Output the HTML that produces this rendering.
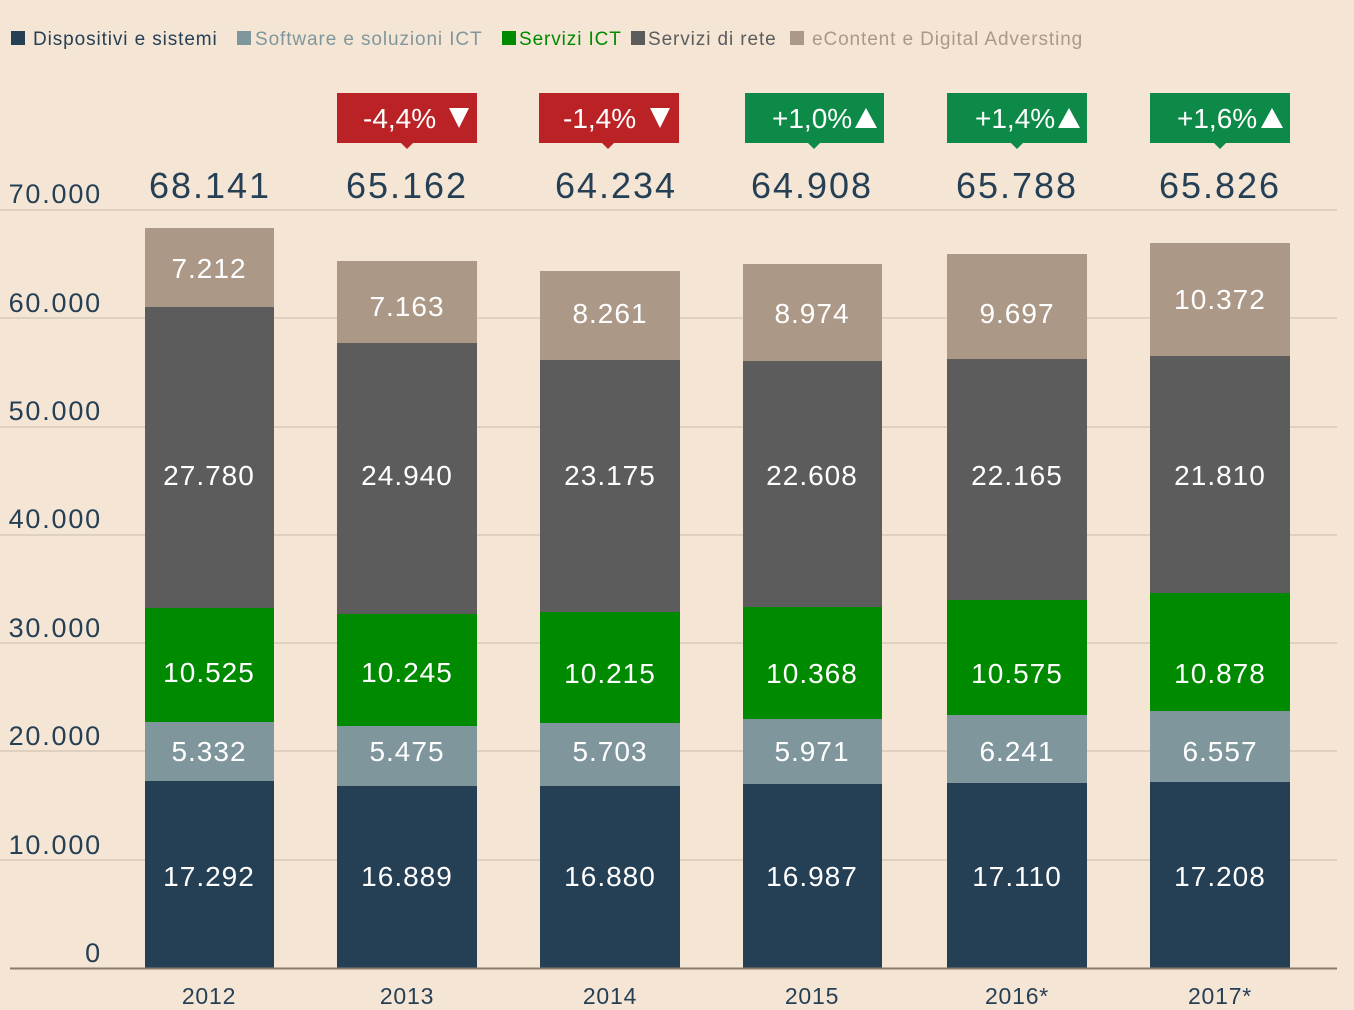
<!DOCTYPE html>
<html><head><meta charset="utf-8"><style>
body{margin:0;background:#f5e5d5;}
svg{display:block;font-family:"Liberation Sans",sans-serif;}
</style></head><body>
<svg width="1354" height="1010" viewBox="0 0 1354 1010" xmlns="http://www.w3.org/2000/svg">
<rect width="1354" height="1010" fill="#f5e5d5"/>
<g font-size="19" letter-spacing="0.9">
<rect x="11" y="31" width="14" height="14" fill="#253f55"/><text x="33" y="45" fill="#253f55">Dispositivi e sistemi</text>
<rect x="237" y="31" width="14" height="14" fill="#7f979c"/><text x="255" y="45" fill="#7f979c">Software e soluzioni ICT</text>
<rect x="502" y="31" width="14" height="14" fill="#008a00"/><text x="519" y="45" fill="#008a00">Servizi ICT</text>
<rect x="631" y="31" width="14" height="14" fill="#5c5c5c"/><text x="648" y="45" fill="#5c5c5c">Servizi di rete</text>
<rect x="790" y="31" width="14" height="14" fill="#ab9886"/><text x="812" y="45" fill="#ab9886">eContent e Digital Adversting</text>
</g>
<g stroke="#d9c9b9" stroke-width="1.5">
<line x1="0" y1="210" x2="1337" y2="210"/><line x1="0" y1="318" x2="1337" y2="318"/>
<line x1="0" y1="427" x2="1337" y2="427"/><line x1="0" y1="535" x2="1337" y2="535"/>
<line x1="0" y1="643" x2="1337" y2="643"/><line x1="0" y1="751" x2="1337" y2="751"/>
<line x1="0" y1="860" x2="1337" y2="860"/>
</g>
<g font-size="27" fill="#253f55" text-anchor="end" letter-spacing="1.8">
<text x="102" y="203">70.000</text><text x="102" y="312">60.000</text><text x="102" y="420">50.000</text>
<text x="102" y="528">40.000</text><text x="102" y="637">30.000</text><text x="102" y="745">20.000</text>
<text x="102" y="854">10.000</text><text x="102" y="962">0</text>
</g>
<g>
<rect x="145" y="781" width="129" height="187" fill="#253f55"/><rect x="145" y="722" width="129" height="59" fill="#7f979c"/><rect x="145" y="608" width="129" height="114" fill="#008a00"/><rect x="145" y="307" width="129" height="301" fill="#5c5c5c"/><rect x="145" y="228" width="129" height="79" fill="#ab9886"/>
<rect x="337" y="786" width="140" height="182" fill="#253f55"/><rect x="337" y="726" width="140" height="60" fill="#7f979c"/><rect x="337" y="614" width="140" height="112" fill="#008a00"/><rect x="337" y="343" width="140" height="271" fill="#5c5c5c"/><rect x="337" y="261" width="140" height="82" fill="#ab9886"/>
<rect x="540" y="786" width="140" height="182" fill="#253f55"/><rect x="540" y="723" width="140" height="63" fill="#7f979c"/><rect x="540" y="612" width="140" height="111" fill="#008a00"/><rect x="540" y="360" width="140" height="252" fill="#5c5c5c"/><rect x="540" y="271" width="140" height="89" fill="#ab9886"/>
<rect x="743" y="784" width="139" height="184" fill="#253f55"/><rect x="743" y="719" width="139" height="65" fill="#7f979c"/><rect x="743" y="607" width="139" height="112" fill="#008a00"/><rect x="743" y="361" width="139" height="246" fill="#5c5c5c"/><rect x="743" y="264" width="139" height="97" fill="#ab9886"/>
<rect x="947" y="783" width="140" height="185" fill="#253f55"/><rect x="947" y="715" width="140" height="68" fill="#7f979c"/><rect x="947" y="600" width="140" height="115" fill="#008a00"/><rect x="947" y="359" width="140" height="241" fill="#5c5c5c"/><rect x="947" y="254" width="140" height="105" fill="#ab9886"/>
<rect x="1150" y="782" width="140" height="186" fill="#253f55"/><rect x="1150" y="711" width="140" height="71" fill="#7f979c"/><rect x="1150" y="593" width="140" height="118" fill="#008a00"/><rect x="1150" y="356" width="140" height="237" fill="#5c5c5c"/><rect x="1150" y="243" width="140" height="113" fill="#ab9886"/>
</g>
<line x1="10" y1="968.5" x2="1337" y2="968.5" stroke="#8c7c6c" stroke-width="2"/>
<g font-size="28" fill="#fff" text-anchor="middle" letter-spacing="1">
<text x="209" y="886">17.292</text><text x="209" y="761">5.332</text><text x="209" y="682">10.525</text><text x="209" y="485">27.780</text><text x="209" y="278">7.212</text>
<text x="407" y="886">16.889</text><text x="407" y="761">5.475</text><text x="407" y="682">10.245</text><text x="407" y="485">24.940</text><text x="407" y="316">7.163</text>
<text x="610" y="886">16.880</text><text x="610" y="761">5.703</text><text x="610" y="683">10.215</text><text x="610" y="485">23.175</text><text x="610" y="323">8.261</text>
<text x="812" y="886">16.987</text><text x="812" y="761">5.971</text><text x="812" y="683">10.368</text><text x="812" y="485">22.608</text><text x="812" y="323">8.974</text>
<text x="1017" y="886">17.110</text><text x="1017" y="761">6.241</text><text x="1017" y="683">10.575</text><text x="1017" y="485">22.165</text><text x="1017" y="323">9.697</text>
<text x="1220" y="886">17.208</text><text x="1220" y="761">6.557</text><text x="1220" y="683">10.878</text><text x="1220" y="485">21.810</text><text x="1220" y="309">10.372</text>
</g>
<g font-size="36" fill="#253f55" text-anchor="middle" letter-spacing="2">
<text x="210" y="198">68.141</text><text x="407" y="198">65.162</text><text x="616" y="198">64.234</text>
<text x="812" y="198">64.908</text><text x="1017" y="198">65.788</text><text x="1220" y="198">65.826</text>
</g>
<g font-size="28" fill="#fff">
<rect x="337" y="93" width="140" height="50" fill="#bb2226"/><path d="M401 143h12l-6 6z" fill="#bb2226"/>
<text x="363" y="128">-4,4%</text><path d="M449 108h20l-10 20z" fill="#fff"/>
<rect x="539" y="93" width="140" height="50" fill="#bb2226"/><path d="M602 143h12l-6 6z" fill="#bb2226"/>
<text x="563" y="128">-1,4%</text><path d="M650 108h20l-10 20z" fill="#fff"/>
<rect x="745" y="93" width="139" height="50" fill="#0d8a47"/><path d="M808 143h12l-6 6z" fill="#0d8a47"/>
<text x="772" y="128">+1,0%</text><path d="M855 128h22l-11 -20z" fill="#fff"/>
<rect x="947" y="93" width="140" height="50" fill="#0d8a47"/><path d="M1011 143h12l-6 6z" fill="#0d8a47"/>
<text x="975" y="128">+1,4%</text><path d="M1058 128h22l-11 -20z" fill="#fff"/>
<rect x="1150" y="93" width="140" height="50" fill="#0d8a47"/><path d="M1214 143h12l-6 6z" fill="#0d8a47"/>
<text x="1177" y="128">+1,6%</text><path d="M1261 128h22l-11 -20z" fill="#fff"/>
</g>
<g font-size="23" fill="#253f55" text-anchor="middle" letter-spacing="0.8">
<text x="209" y="1004">2012</text><text x="407" y="1004">2013</text><text x="610" y="1004">2014</text>
<text x="812" y="1004">2015</text><text x="1017" y="1004">2016*</text><text x="1220" y="1004">2017*</text>
</g>
</svg>
</body></html>
